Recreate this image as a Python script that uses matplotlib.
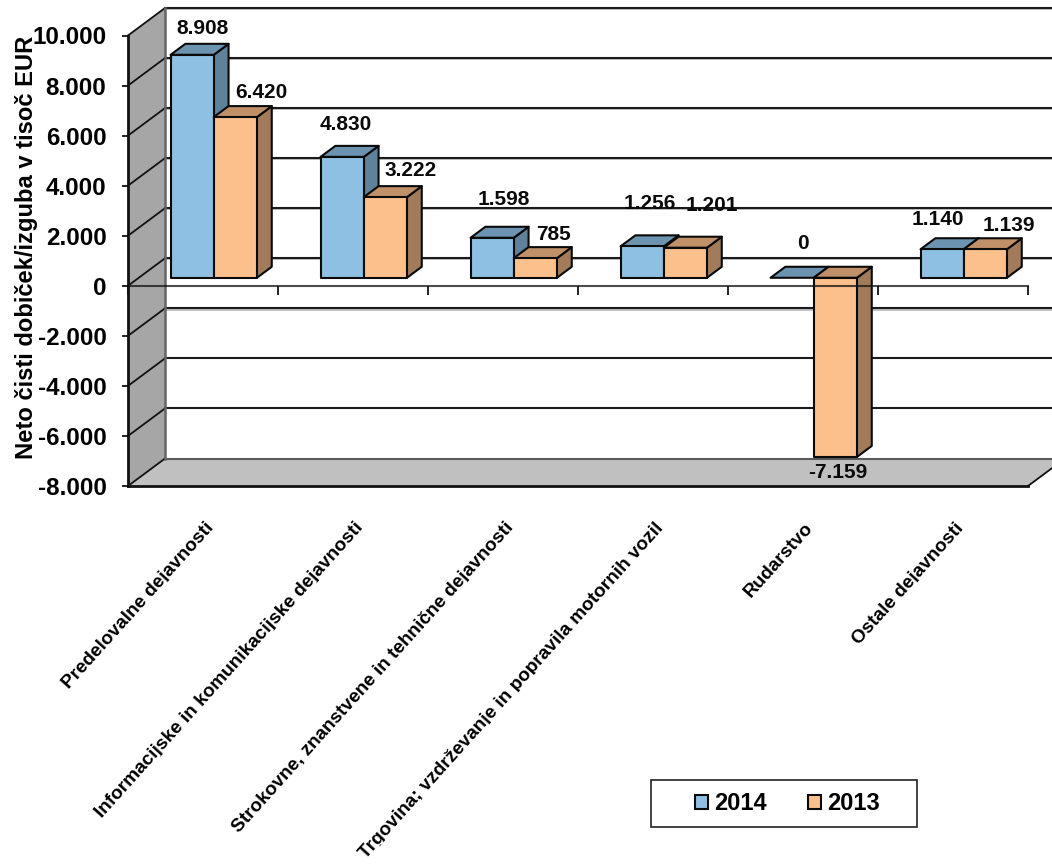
import matplotlib
matplotlib.use("Agg")
import matplotlib.pyplot as plt
import numpy as np
from matplotlib.patches import Patch, Rectangle
from matplotlib.ticker import FuncFormatter, FixedLocator, NullFormatter
from matplotlib.transforms import Affine2D

plt.rcParams['font.family'] = ['Liberation Sans', 'DejaVu Sans']
plt.rcParams['font.weight'] = 'bold'

categories = ["Predelovalne dejavnosti",
              "Informacijske in komunikacijske dejavnosti",
              "Strokovne, znanstvene in tehnične dejavnosti",
              "Trgovina; vzdrževanje in popravila motornih vozil",
              "Rudarstvo",
              "Ostale dejavnosti"]
values_2014 = [8908, 4830, 1598, 1256, 0, 1140]
values_2013 = [6420, 3222, 785, 1201, -7159, 1139]
y_ticks = [-8000, -6000, -4000, -2000, 0, 2000, 4000, 6000, 8000, 10000]
ylabel_text = "Neto čisti dobiček/izguba v tisoč EUR"

# label offsets from the bar's front-top centre, in pixels
off_2014 = [(10, 26), (4, 32), (12, 38.5), (8, 43), (11, 34.5), (-4, 30)]
off_2013 = [(26, 25), (25, 27), (18, 24), (27, 42.5), (2, -15.5), (24, 24)]

W, H = 1052, 865
fig = plt.figure(figsize=(W / 100, H / 100), dpi=100, facecolor='white')
ax = fig.add_axes([128 / W, 1 - 486 / H, 900 / W, 450.5 / H])
ax.set_xlim(0, 6)
ax.set_ylim(-8000, 10000)
ax.patch.set_visible(False)

# oblique projection: depth 0 = front plane, depth 1 = back wall
PX_X = 6 / 900
PX_Y = 18000 / 450.5
DX = 37 * PX_X
DY = 27.5 * PX_Y


def proj(x, y, d):
    return x + d * DX, y + d * DY


def face(pts, **kw):
    xs, ys = zip(*[proj(*p) for p in pts])
    ax.fill(xs, ys, clip_on=False, **kw)


# floor and side wall
face([(0, -8000, 0), (6, -8000, 0), (6, -8000, 1), (0, -8000, 1)],
     facecolor='#c0c0c0', edgecolor='none', zorder=1)
face([(0, -8000, 0), (0, 10000, 0), (0, 10000, 1), (0, -8000, 1)],
     facecolor='#a6a6a6', edgecolor='none', zorder=1)

# grid on back wall and side wall
for v in y_ticks:
    x0, y0 = proj(0, v, 1)
    x1, y1 = proj(6, v, 1)
    if v >= -2000:
        ax.plot([x0, x1], [y0 - 1.2 * PX_Y] * 2, color='#b5b5b5', lw=1.2, clip_on=False, zorder=1.5)
    ax.plot([x0, x1], [y0, y1], color='#1a1a1a' if v > -8000 else '#5a5a5a', lw=1.5, clip_on=False, zorder=2)
    sx, sy = proj(0, v, 0)
    ax.plot([sx, x0], [sy, y0], color='#111111', lw=1.3, clip_on=False, zorder=2)
bx0, by0 = proj(0, -8000, 1)
bx1, by1 = proj(0, 10000, 1)
ax.plot([bx0, bx1], [by0, by1], color='#666666', lw=1.8, clip_on=False, zorder=2)
fx1, fy1 = proj(6, -8000, 1)
ax.plot([6, fx1], [-8000, fy1], color='#111111', lw=1.3, clip_on=False, zorder=2)
ax.plot([0, 6], [-8000, -8000], color='#111111', lw=2, clip_on=False, zorder=2.5)

# bars
BAR_W = 43.2 * PX_X
D0, D1 = 8 / 27.5, 19 / 27.5
series = [(values_2014, -1, '#8DC0E2', '#6C93B0', '#5F8199', off_2014),
          (values_2013, 0, '#FBC08C', '#C09068', '#A27C5A', off_2013)]
EDGE = dict(edgecolor='#0a0a0a', linewidth=1.5, joinstyle='round')
z = 3
for i in range(len(categories)):
    for vals, shift, front, top, side, off in series:
        v = vals[i]
        left = i + 0.5 + shift * BAR_W
        right = left + BAR_W
        hi = max(v, 0)
        lo = min(v, 0)
        if v != 0:
            face([(right, lo, D0), (right, hi, D0), (right, hi, D1), (right, lo, D1)],
                 facecolor=side, zorder=z, **EDGE)
        face([(left, hi, D0), (right, hi, D0), (right, hi, D1), (left, hi, D1)],
             facecolor=top, zorder=z, **EDGE)
        if v != 0:
            x_f, y_b = proj(left, 0, D0)
            ax.bar(x_f, v, width=BAR_W, bottom=y_b, align='edge', facecolor=front,
                   zorder=z + 0.1, clip_on=False, **EDGE)
        z += 0.2

# axes, ticks, labels
for s in ('top', 'right'):
    ax.spines[s].set_visible(False)
ax.spines['left'].set_linewidth(2)
ax.spines['left'].set_color('#111111')
ax.spines['left'].set_zorder(2.5)
ax.spines['bottom'].set_position(('data', 0))
ax.spines['bottom'].set_linewidth(1.5)
ax.spines['bottom'].set_color('#111111')
ax.spines['bottom'].set_alpha(0.75)
ax.spines['bottom'].set_zorder(20)

ax.yaxis.set_major_locator(FixedLocator(y_ticks))
ax.yaxis.set_major_formatter(FuncFormatter(lambda v, p: f"{int(v):,}".replace(",", ".")))
ax.tick_params(axis='y', which='major', length=4, width=1.3, pad=11.5, labelsize=17.4, color='#111111')

LABEL_ANGLE = 48
ax.xaxis.set_major_locator(FixedLocator(np.arange(0, 7)))
ax.xaxis.set_major_formatter(NullFormatter())
ax.xaxis.set_minor_locator(FixedLocator(np.arange(6) + 0.5))
ax.set_xticklabels(categories, minor=True, rotation=LABEL_ANGLE, ha='right', va='baseline',
                   rotation_mode='anchor', fontsize=13.7)
ax.tick_params(axis='x', which='major', length=6.3, width=1.3, color='#111111', zorder=20)
ax.tick_params(axis='x', which='minor', length=0, pad=174.5)
for t in ax.xaxis.get_majorticklines():
    t.set_zorder(20)
labels = ax.get_xticklabels(minor=True)
for lab in labels:
    lab.set_transform(lab.get_transform() + Affine2D().translate(11, 0))

ax.set_ylabel(ylabel_text, fontsize=17.1, fontweight='bold', va='center')
ax.yaxis.set_label_coords(27 / W, 1 - 247 / H, transform=fig.transFigure)

# data labels
for vals, shift, _, _, _, off in series:
    for i, v in enumerate(vals):
        left = i + 0.5 + shift * BAR_W
        bx, by = proj(left + BAR_W / 2, 0, D0)
        ax.annotate(f"{v:,}".replace(",", "."), xy=(bx, by + v),
                    xytext=(off[i][0] * 0.72, off[i][1] * 0.72),
                    textcoords='offset points', ha='center', va='center',
                    fontsize=15, fontweight='bold', color='#0a0a0a',
                    zorder=30, annotation_clip=False)

# legend
fig.add_artist(Rectangle((651 / W, 1 - 827 / H), 266 / W, 47 / H, transform=fig.transFigure,
                         facecolor='white', edgecolor='#222222', linewidth=1.2))
handles = [Patch(facecolor='#8DC0E2', edgecolor='#0a0a0a', linewidth=1.5, label='2014'),
           Patch(facecolor='#FBC08C', edgecolor='#0a0a0a', linewidth=1.5, label='2013')]
fig.legend(handles=handles, ncol=2, frameon=False, fontsize=17,
           loc='center', bbox_to_anchor=(787.5 / W, 1 - 804 / H),
           handlelength=0.55, handleheight=0.55, handletextpad=0.28, columnspacing=1.72,
           borderpad=0, borderaxespad=0)

# the reference cuts the category labels' descenders just below the baseline:
# a white strip along each label's underside gives the same look
fig.canvas.draw()
renderer = fig.canvas.get_renderer()
for lab in ax.get_xticklabels(minor=True):
    a = lab.get_transform().transform(lab.get_position())
    w, _, _ = renderer.get_text_width_height_descent(lab.get_text(), lab.get_fontproperties(), False)
    ax.add_patch(Rectangle((-w - 4, -9), w + 8, 7.4, facecolor='white', edgecolor='none',
                           transform=Affine2D().rotate_deg(LABEL_ANGLE).translate(a[0], a[1]),
                           clip_on=False, zorder=40))

fig.savefig("out.png", dpi=100, facecolor='white')
